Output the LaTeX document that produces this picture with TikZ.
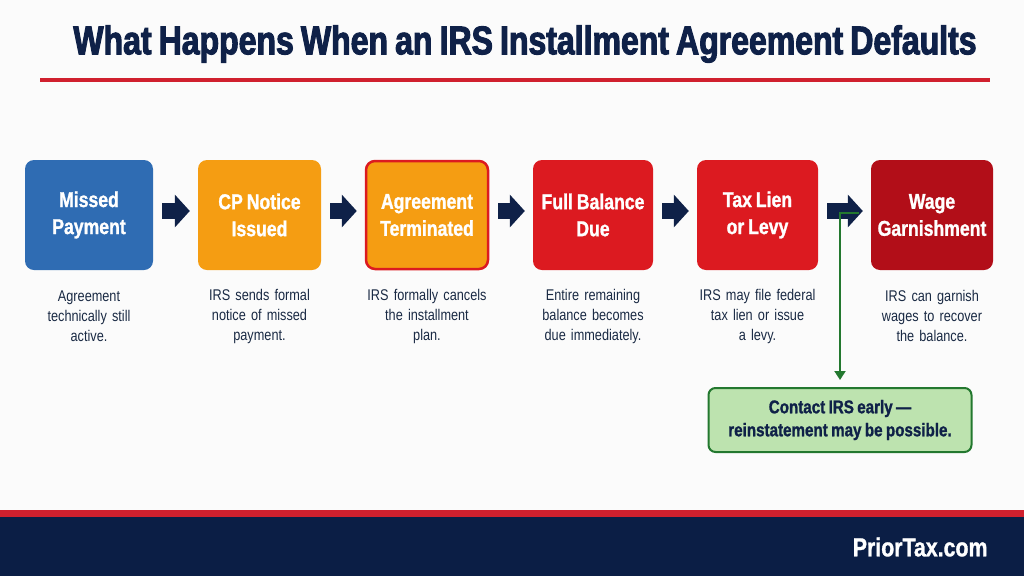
\documentclass[tikz,border=0pt]{standalone}
\usepackage{fontspec}
\setmainfont{Liberation Sans}[FakeStretch=0.82, WordSpace=0.8, BoldFeatures={FakeBold=1.2}]
\newfontfamily\titlefont{Liberation Sans}[FakeStretch=0.8, WordSpace=0.8, BoldFeatures={FakeBold=2.5}]
\usetikzlibrary{arrows.meta}
\definecolor{navy}{HTML}{0F2148}
\definecolor{footnavy}{HTML}{0B1E45}
\definecolor{cblue}{HTML}{2F6CB3}
\definecolor{corange}{HTML}{F59D12}
\definecolor{cred}{HTML}{DC1A20}
\definecolor{cdarkred}{HTML}{B20E18}
\definecolor{linered}{HTML}{D0202E}
\definecolor{gfill}{HTML}{BDE3AF}
\definecolor{gline}{HTML}{23782F}
\definecolor{txtdark}{HTML}{1A2A44}
\tikzset{
  stepbox/.style={rounded corners=9pt, minimum height=110pt, text=white, align=center,
    font=\bfseries\fontsize{21.5}{27}\selectfont, inner sep=0pt},
  desc/.style={text width=160pt, align=center, text=txtdark, font=\fontsize{15.5}{20}\selectfont},
  blockarrow/.style={draw=navy, line width=16pt, -{Triangle[length=15pt,width=32pt]},
    shorten <=9pt, shorten >=8pt},
}
\begin{document}
\begin{tikzpicture}[x=1pt,y=-1pt]
\useasboundingbox (0,0) rectangle (1024,576);
\fill[white!97!gray] (0,0) rectangle (1024,576);
% title
\node[text=navy, font=\titlefont\bfseries\fontsize{40}{42}\selectfont] (title) at (525,44) {What Happens When an IRS Installment Agreement Defaults};
\draw[linered, line width=3.5pt] (40,80) -- (990,80);
% boxes
\node[stepbox, fill=cblue, minimum width=128pt] (b1) at (89,215) {Missed\\Payment};
\node[stepbox, fill=corange, minimum width=123pt] (b2) at (259.5,215) {CP Notice\\Issued};
\node[stepbox, fill=corange, draw=cred, line width=2.5pt, minimum width=122pt, minimum height=108pt] (b3) at (427,215) {Agreement\\Terminated};
\node[stepbox, fill=cred, minimum width=120pt] (b4) at (593,215) {Full Balance\\Due};
\node[stepbox, fill=cred, minimum width=121pt] (b5) at (757.5,215) {Tax Lien\\or Levy};
\node[stepbox, fill=cdarkred, minimum width=122pt] (b6) at (932,215) {Wage\\Garnishment};
% arrows
\draw[blockarrow] ([yshift=4pt]b1.east) -- ([yshift=4pt]b2.west);
\draw[blockarrow] ([yshift=4pt]b2.east) -- ([yshift=4pt]b3.west);
\draw[blockarrow] ([yshift=4pt]b3.east) -- ([yshift=4pt]b4.west);
\draw[blockarrow] ([yshift=4pt]b4.east) -- ([yshift=4pt]b5.west);
\draw[blockarrow] ([yshift=4pt]b5.east) -- ([yshift=4pt]b6.west);
% descriptions
\node[desc] (d1) at (89,316) {Agreement\\technically still\\active.};
\node[desc] (d2) at (259.5,316) {IRS sends formal\\notice of missed\\payment.};
\node[desc] (d3) at (427,316) {IRS formally cancels\\the installment\\plan.};
\node[desc] (d4) at (593,316) {Entire remaining\\balance becomes\\due immediately.};
\node[desc] (d5) at (757.5,316) {IRS may file federal\\tax lien or issue\\a levy.};
\node[desc] (d6) at (932,316) {IRS can garnish\\wages to recover\\the balance.};
% green note
\node[rounded corners=7pt, fill=gfill, draw=gline, line width=2pt, minimum width=263pt, minimum height=64pt,
  align=center, text=navy, font=\bfseries\fontsize{18.5}{23}\selectfont] (g) at (840,420)
  {Contact IRS early —\\reinstatement may be possible.};
\coordinate (gs) at (859,213);
\draw[gline, line width=2pt, -{Triangle[length=9pt,width=11pt]}, shorten >=7pt] (gs) -| (g.north);
% footer
\fill[linered] (0,510) rectangle (1024,517);
\fill[footnavy] (0,517) rectangle (1024,576);
\node[text=white, font=\bfseries\fontsize{26}{28}\selectfont, anchor=east] (brand) at (991,547) {PriorTax.com};
\end{tikzpicture}
\end{document}
